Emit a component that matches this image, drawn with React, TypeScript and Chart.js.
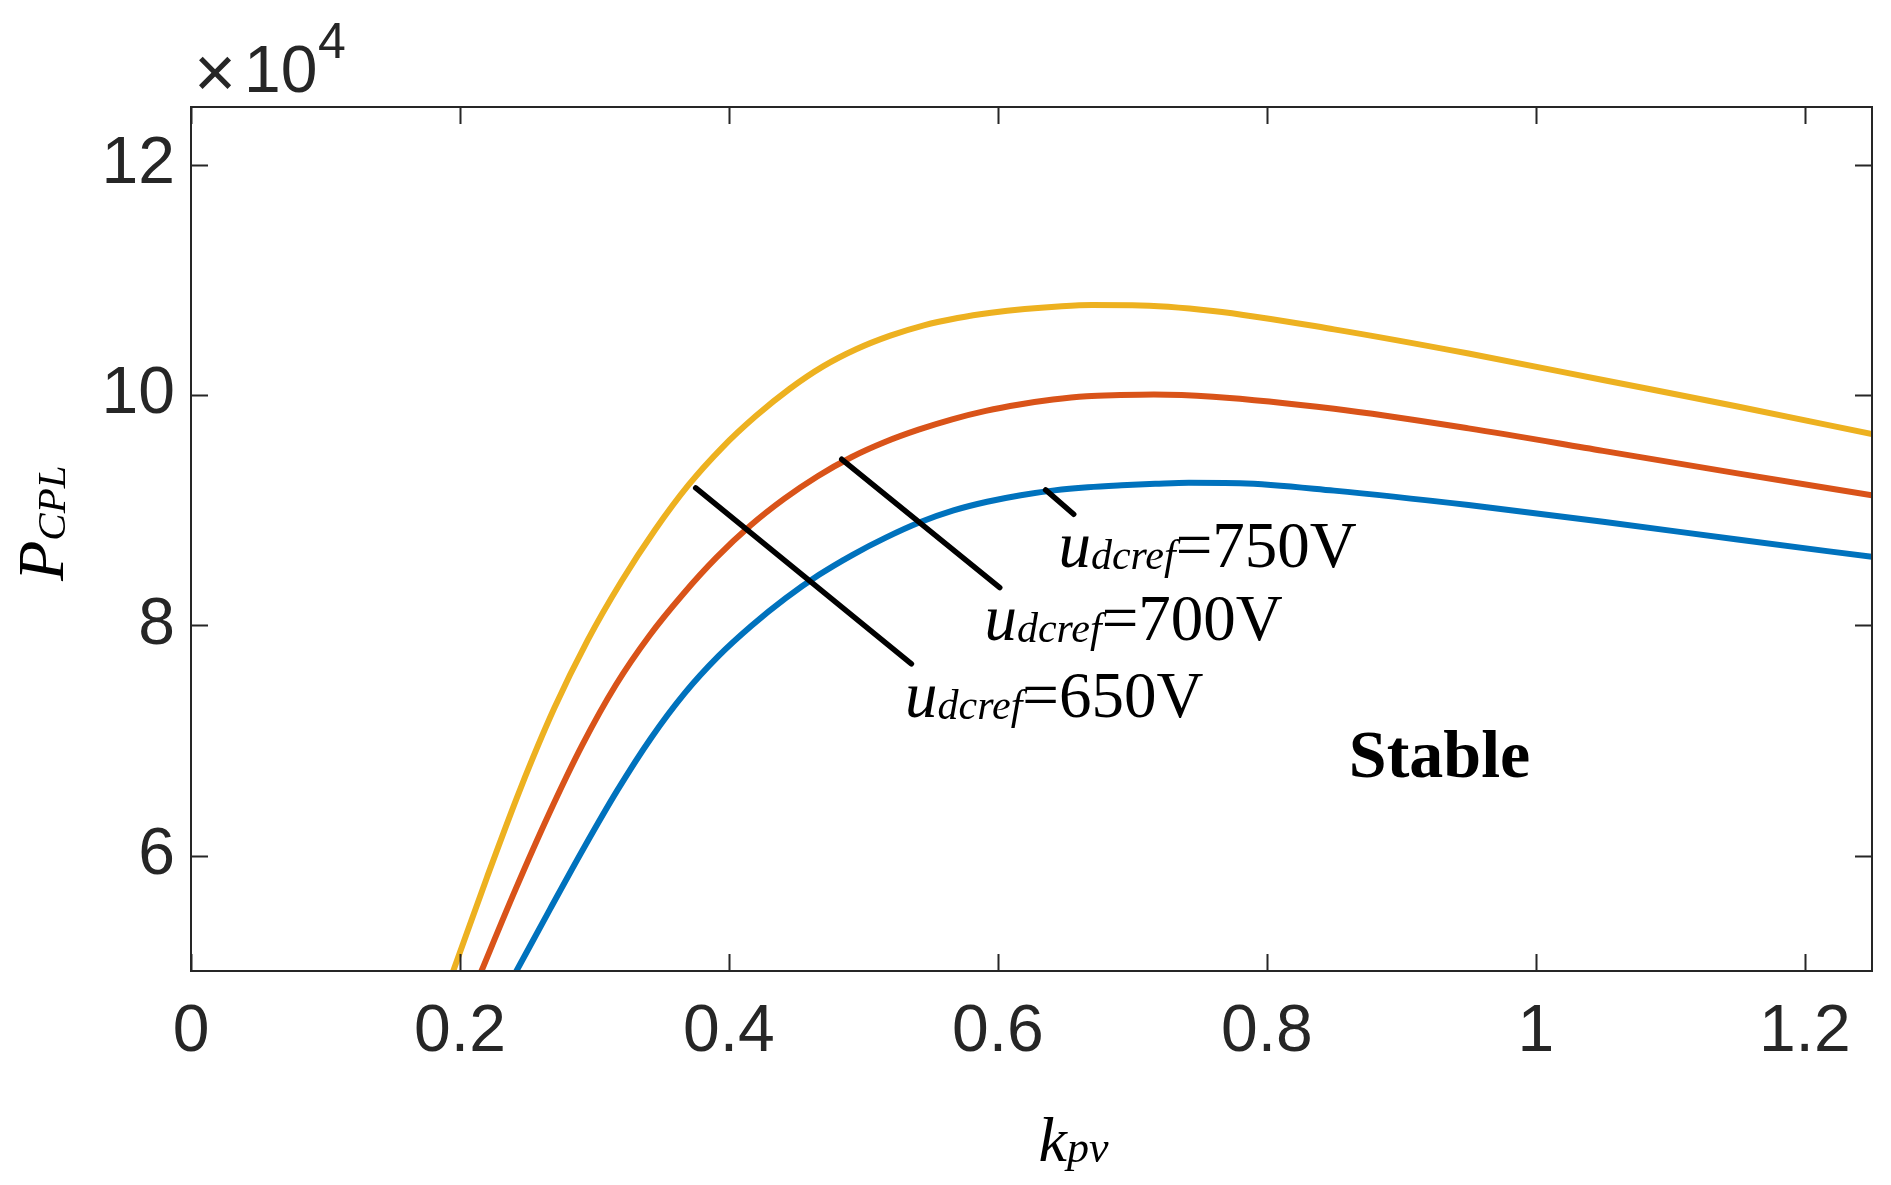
import { useEffect, useRef } from 'react';
import { Chart, registerables } from 'chart.js';

Chart.register(...registerables);

// P_CPL (x10^4) against k_pv
const kpv750 = [0.19, 0.195, 0.22, 0.245, 0.27, 0.295, 0.32, 0.345, 0.37, 0.395, 0.42, 0.445, 0.47, 0.495, 0.52, 0.545, 0.57, 0.595, 0.62, 0.645, 0.67, 0.7, 0.76, 0.85, 0.95, 1.05, 1.15, 1.25];
const p750 = [4.84, 5.0, 5.81, 6.584, 7.278, 7.872, 8.381, 8.828, 9.219, 9.544, 9.817, 10.052, 10.248, 10.399, 10.515, 10.605, 10.668, 10.714, 10.747, 10.769, 10.781, 10.78, 10.73, 10.57, 10.36, 10.13, 9.9, 9.66];

const kpv700 = [0.21, 0.216, 0.241, 0.266, 0.291, 0.316, 0.341, 0.366, 0.391, 0.416, 0.441, 0.466, 0.491, 0.516, 0.541, 0.566, 0.591, 0.616, 0.641, 0.666, 0.691, 0.716, 0.76, 0.85, 0.95, 1.05, 1.15, 1.25];
const p700 = [4.83, 5.0, 5.7, 6.359, 6.963, 7.485, 7.913, 8.273, 8.592, 8.867, 9.098, 9.295, 9.46, 9.592, 9.699, 9.789, 9.862, 9.918, 9.961, 9.99, 10.0, 10.005, 9.985, 9.88, 9.71, 9.515, 9.32, 9.13];

const kpv650 = [0.235, 0.242, 0.267, 0.292, 0.317, 0.342, 0.367, 0.392, 0.417, 0.442, 0.467, 0.492, 0.517, 0.542, 0.567, 0.592, 0.617, 0.642, 0.667, 0.692, 0.717, 0.742, 0.78, 0.85, 0.95, 1.05, 1.15, 1.25];
const p650 = [4.85, 5.0, 5.537, 6.066, 6.568, 7.021, 7.41, 7.731, 7.999, 8.234, 8.439, 8.613, 8.764, 8.895, 8.998, 9.073, 9.13, 9.172, 9.199, 9.216, 9.229, 9.239, 9.235, 9.17, 9.045, 8.9, 8.745, 8.595];

// pointer lines from the curves to the labels
const ptr650X = [0.3753, 0.5357];
const ptr650Y = [9.193, 7.666];
const ptr700X = [0.4839, 0.6014];
const ptr700Y = [9.442, 8.328];
const ptr750X = [0.6355, 0.6564];
const ptr750Y = [9.176, 8.965];

// label anchors (start of text, baseline)
const labelNames = ['750V', '700V', '650V'];
const labelX = [0.645, 0.59, 0.531];
const labelY = [8.508, 7.875, 7.207];
const stableX = 0.861;
const stableY = 6.687;

const xTicks = [0, 0.2, 0.4, 0.6, 0.8, 1, 1.2];
const yTicks = [6, 8, 10, 12];

const toPts = (xs: number[], ys: number[]) => xs.map((x, i) => ({ x, y: ys[i] }));

const SERIF = '"Liberation Serif", "Times New Roman", serif';
const SANS = '"Liberation Sans", Arial, sans-serif';
const AXIS = '#262626';

type Part = { text: string; font: string; dy?: number };

function drawRich(ctx: CanvasRenderingContext2D, parts: Part[], x: number, y: number) {
  let cx = x;
  for (const p of parts) {
    ctx.font = p.font;
    ctx.fillText(p.text, cx, y + (p.dy || 0));
    cx += ctx.measureText(p.text).width;
  }
}

const framePlugin = {
  id: 'frame',
  afterDatasetsDraw(chart: any) {
    const { ctx, chartArea: a, scales } = chart;
    const xs = scales.x;
    const ys = scales.y;
    ctx.save();

    // box with inward ticks on all four sides
    ctx.strokeStyle = AXIS;
    ctx.lineWidth = 2;
    ctx.strokeRect(a.left, a.top, a.right - a.left, a.bottom - a.top);
    ctx.beginPath();
    for (const v of xTicks) {
      const px = Math.round(xs.getPixelForValue(v)) + 0.5;
      ctx.moveTo(px, a.bottom);
      ctx.lineTo(px, a.bottom - 17);
      ctx.moveTo(px, a.top);
      ctx.lineTo(px, a.top + 17);
    }
    for (const v of yTicks) {
      const py = Math.round(ys.getPixelForValue(v)) + 0.5;
      ctx.moveTo(a.left, py);
      ctx.lineTo(a.left + 17, py);
      ctx.moveTo(a.right, py);
      ctx.lineTo(a.right - 17, py);
    }
    ctx.stroke();

    // exponent
    ctx.fillStyle = AXIS;
    ctx.textAlign = 'left';
    ctx.textBaseline = 'alphabetic';
    ctx.font = `72px ${SANS}`;
    ctx.fillText('\u00d7', a.left + 3, a.top - 10);
    ctx.font = `66px ${SANS}`;
    ctx.fillText('10', a.left + 53, a.top - 15);
    ctx.font = `50px ${SANS}`;
    ctx.fillText('4', a.left + 127, a.top - 49);

    // curve labels
    ctx.fillStyle = '#000';
    labelNames.forEach((name, i) => {
      const px = xs.getPixelForValue(labelX[i]);
      const py = ys.getPixelForValue(labelY[i]);
      drawRich(ctx, [
        { text: 'u', font: `italic 65px ${SERIF}` },
        { text: 'dcref', font: `italic 42px ${SERIF}`, dy: 2 },
        { text: '=' + name, font: `65px ${SERIF}` },
      ], px, py);
    });

    ctx.font = `bold 68px ${SERIF}`;
    ctx.fillText('Stable', xs.getPixelForValue(stableX), ys.getPixelForValue(stableY));

    // x label
    const cx = (a.left + a.right) / 2;
    drawRich(ctx, [
      { text: 'k', font: `italic 64px ${SERIF}` },
      { text: 'pv', font: `italic 44px ${SERIF}`, dy: 1 },
    ], cx + 7, a.bottom + 190);

    // y label
    const cy = (a.top + a.bottom) / 2;
    ctx.translate(a.left - 128, cy + 42);
    ctx.rotate(-Math.PI / 2);
    drawRich(ctx, [
      { text: 'P', font: `italic 66px ${SERIF}` },
      { text: 'CPL', font: `italic 41px ${SERIF}`, dy: 2 },
    ], 0, 0);

    ctx.restore();
  },
};

export default function App() {
  const canvasRef = useRef<HTMLCanvasElement>(null);
  const chartRef = useRef<Chart | null>(null);

  useEffect(() => {
    if (!canvasRef.current) return;
    if (chartRef.current) chartRef.current.destroy();

    const curve = (pts: { x: number; y: number }[], color: string) => ({
      data: pts,
      borderColor: color,
      backgroundColor: color,
      borderWidth: 6,
      pointRadius: 0,
      cubicInterpolationMode: 'monotone' as const,
      clip: 0,
    });
    const pointer = (pts: { x: number; y: number }[]) => ({
      data: pts,
      borderColor: '#000',
      backgroundColor: '#000',
      borderWidth: 5.5,
      borderCapStyle: 'round' as const,
      pointRadius: 0,
      clip: 0,
    });

    chartRef.current = new Chart(canvasRef.current, {
      type: 'line',
      data: {
        datasets: [
          pointer(toPts(ptr650X, ptr650Y)),
          pointer(toPts(ptr700X, ptr700Y)),
          pointer(toPts(ptr750X, ptr750Y)),
          curve(toPts(kpv750, p750), '#EDB120'),
          curve(toPts(kpv700, p700), '#D95319'),
          curve(toPts(kpv650, p650), '#0072BD'),
        ],
      },
      options: {
        animation: false,
        responsive: true,
        maintainAspectRatio: false,
        layout: { padding: { left: 0, top: 107, right: 19, bottom: 0 } },
        plugins: { legend: { display: false }, tooltip: { enabled: false } },
        scales: {
          x: {
            type: 'linear',
            min: 0,
            max: 1.25,
            grid: { display: false, drawTicks: false },
            border: { display: false },
            afterBuildTicks: (s: any) => { s.ticks = xTicks.map((v) => ({ value: v })); },
            afterFit: (s: any) => { s.height = 214; },
            ticks: {
              color: AXIS,
              padding: 22,
              maxRotation: 0,
              autoSkip: false,
              font: { family: SANS, size: 66 },
              callback: (v: any) => String(v),
            },
          },
          y: {
            type: 'linear',
            min: 5,
            max: 12.5,
            grid: { display: false, drawTicks: false },
            border: { display: false },
            afterBuildTicks: (s: any) => { s.ticks = yTicks.map((v) => ({ value: v })); },
            afterFit: (s: any) => { s.width = 191; },
            ticks: {
              color: AXIS,
              padding: 16,
              autoSkip: false,
              font: { family: SANS, size: 66 },
              callback: (v: any) => String(v),
            },
          },
        },
      },
      plugins: [framePlugin],
    });

    return () => {
      if (chartRef.current) {
        chartRef.current.destroy();
        chartRef.current = null;
      }
    };
  }, []);

  return (
    <div style={{ position: 'absolute', left: 0, top: 0, width: 1891, height: 1185, background: '#fff' }}>
      <canvas ref={canvasRef} />
    </div>
  );
}
